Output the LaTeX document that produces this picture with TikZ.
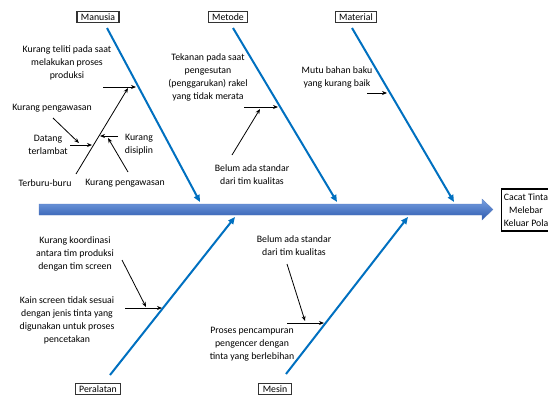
\documentclass[tikz,border=0pt]{standalone}
\usepackage{fontspec}
\setmainfont{Carlito}
\usetikzlibrary{arrows.meta}
\definecolor{bone}{RGB}{0,112,192}
\definecolor{spineTop}{RGB}{120,160,225}
\definecolor{spineBot}{RGB}{45,90,175}
\tikzset{
  lbl/.style={align=center,inner sep=0pt,font=\fontsize{9.8}{13}\selectfont},
  catbox/.style={draw=black!80,line width=1.2pt,fill=white,inner xsep=4pt,inner ysep=2pt,font=\fontsize{9.8}{12}\selectfont},
  bonearrow/.style={draw=bone,line width=2pt,-{Triangle[length=7pt,width=6pt]}},
  cause/.style={draw=black,line width=0.8pt,-{Stealth[length=5pt,width=4pt]}}
}
\begin{document}
\begin{tikzpicture}[x=1pt,y=-1pt]
\useasboundingbox (0,0) rectangle (548,394);

% spine with arrow head
\path[top color=spineTop,bottom color=spineBot,draw=spineBot!80,line width=0.3pt]
  (39,204) -- (482,204) -- (482,199) -- (493,209.5) -- (482,220) -- (482,215) -- (39,215) -- cycle;

% effect
\node[draw=black,line width=1.2pt,fill=white,align=center,inner sep=2pt,
  font=\fontsize{9.8}{13}\selectfont,minimum height=42pt] (effect) at (526,210)
  {Cacat Tinta\\Melebar\\Keluar Pola};

% category boxes
\node[catbox] (manusia) at (98,17) {Manusia};
\node[catbox] (metode) at (228,17) {Metode};
\node[catbox] (material) at (356,17) {Material};
\node[catbox] (peralatan) at (98,389) {Peralatan};
\node[catbox] (mesin) at (275,389) {Mesin};

% bone end points
\coordinate (mA) at (107,28);  \coordinate (mB) at (200,202);
\coordinate (tA) at (233,28);  \coordinate (tB) at (337,202);
\coordinate (lA) at (352,28);  \coordinate (lB) at (454,202);
\coordinate (pA) at (110,375); \coordinate (pB) at (235,217);
\coordinate (sA) at (286,374); \coordinate (sB) at (408,217);

\draw[bonearrow] (mA) -- (mB);
\draw[bonearrow] (tA) -- (tB);
\draw[bonearrow] (lA) -- (lB);
\draw[bonearrow] (pA) -- (pB);
\draw[bonearrow] (sA) -- (sB);

% --- Manusia causes
\node[lbl] (m1) at (67,63) {Kurang teliti pada saat\\melakukan proses\\produksi};
\coordinate (m1a) at (103,87); \coordinate (m1b) at (136,87);
\draw[cause] (m1a) -- (m1b);
\node[lbl] (m2) at (45,183) {Terburu-buru};
\coordinate (m2a) at (76,174); \coordinate (m2b) at (128,88);
\draw[cause] (m2a) -- (m2b);
\node[lbl] (m3) at (48,144.5) {Datang\\terlambat};
\coordinate (m3a) at (70,145); \coordinate (m3b) at (92,145);
\draw[cause] (m3a) -- (m3b);
\node[lbl] (m4) at (52,108) {Kurang pengawasan};
\coordinate (m4a) at (53,118); \coordinate (m4b) at (79,143);
\draw[cause] (m4a) -- (m4b);
\node[lbl] (m5) at (139,144.5) {Kurang\\disiplin};
\coordinate (m5a) at (118,136); \coordinate (m5b) at (100,136);
\draw[cause] (m5a) -- (m5b);
\node[lbl] (m6) at (125,183) {Kurang pengawasan};
\coordinate (m6a) at (128,172); \coordinate (m6b) at (108,138);
\draw[cause] (m6a) -- (m6b);

% --- Metode causes
\node[lbl] (t1) at (208,77.5) {Tekanan pada saat\\pengesutan\\(penggarukan) rakel\\yang tidak merata};
\coordinate (t1a) at (244,107); \coordinate (t1b) at (278,107);
\draw[cause] (t1a) -- (t1b);
\node[lbl] (t2) at (252,175) {Belum ada standar\\dari tim kualitas};
\coordinate (t2a) at (232,155); \coordinate (t2b) at (260,109);
\draw[cause] (t2a) -- (t2b);

% --- Material causes
\node[lbl] (l1) at (337,77.5) {Mutu bahan baku\\yang kurang baik};
\coordinate (l1a) at (367,93); \coordinate (l1b) at (387,93);
\draw[cause] (l1a) -- (l1b);

% --- Peralatan causes
\node[lbl] (p1) at (75,254) {Kurang koordinasi\\antara tim produksi\\dengan tim screen};
\coordinate (p1a) at (122,260); \coordinate (p1b) at (146,307);
\draw[cause] (p1a) -- (p1b);
\node[lbl] (p2) at (67,320.5) {Kain screen tidak sesuai\\dengan jenis tinta yang\\digunakan untuk proses\\pencetakan};
\coordinate (p2a) at (125,308); \coordinate (p2b) at (162,308);
\draw[cause] (p2a) -- (p2b);

% --- Mesin causes
\node[lbl] (s1) at (294,245.5) {Belum ada standar\\dari tim kualitas};
\coordinate (s1a) at (287,264); \coordinate (s1b) at (305,321);
\draw[cause] (s1a) -- (s1b);
\node[lbl] (s2) at (252,344) {Proses pencampuran\\pengencer dengan\\tinta yang berlebihan};
\coordinate (s2a) at (287,323); \coordinate (s2b) at (324,323);
\draw[cause] (s2a) -- (s2b);
\end{tikzpicture}
\end{document}
